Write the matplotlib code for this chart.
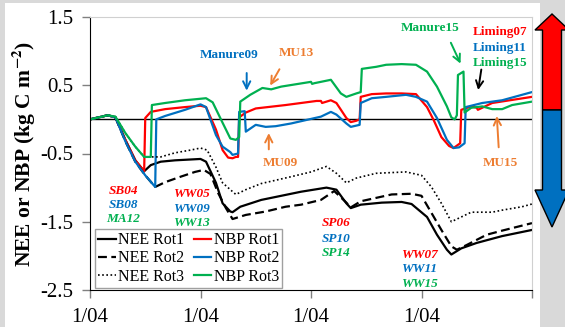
import matplotlib
matplotlib.use('Agg')
from matplotlib import pyplot as plt
from matplotlib.patches import Polygon, Rectangle

plt.rcParams['font.family'] = ['Liberation Serif', 'DejaVu Serif']
plt.rcParams['mathtext.fontset'] = 'stix'
plt.rcParams['axes.unicode_minus'] = False

# time axis: years since 1 April of the first year of each rotation
t_nbp1 = [0, 0.16, 0.23, 0.32, 0.41, 0.49, 0.50, 0.55, 0.68, 0.86, 1.00, 1.05, 1.14, 1.20, 1.25, 1.29,
          1.32, 1.34, 1.35, 1.41, 1.50, 1.77, 2.05, 2.09, 2.10, 2.18, 2.23, 2.32, 2.36, 2.41, 2.44, 2.45,
          2.55, 2.68, 2.82, 2.95, 3.05, 3.11, 3.18, 3.25, 3.29, 3.35, 3.36, 3.45, 3.50, 3.51, 3.64, 4.0]
nbp1 = [0, 0.06, 0.03, -0.30, -0.60, -0.76, 0.02, 0.11, 0.15, 0.18, 0.20, 0.18, -0.15, -0.45, -0.56, -0.57,
        -0.55, -0.55, 0.03, 0.10, 0.16, 0.21, 0.27, 0.27, 0.24, 0.28, 0.24, 0.02, -0.04, -0.02, 0.0, 0.33,
        0.37, 0.38, 0.38, 0.37, 0.18, -0.01, -0.26, -0.39, -0.42, -0.35, 0.14, 0.19, 0.17, 0.14, 0.24, 0.33]

t_nbp2 = [0, 0.16, 0.23, 0.32, 0.41, 0.50, 0.59, 0.60, 0.68, 0.86, 1.00, 1.05, 1.14, 1.20, 1.27, 1.29,
          1.34, 1.35, 1.40, 1.41, 1.50, 1.59, 1.68, 1.82, 2.09, 2.18, 2.23, 2.32, 2.36, 2.44, 2.45, 2.55,
          2.68, 2.86, 2.95, 3.05, 3.14, 3.23, 3.29, 3.34, 3.39, 3.40, 3.55, 3.73, 4.0]
nbp2 = [0, 0.06, 0.03, -0.32, -0.62, -0.82, -0.99, 0.0, 0.05, 0.14, 0.22, 0.18, -0.23, -0.40, -0.48, -0.52,
        -0.50, 0.11, 0.12, -0.18, -0.08, -0.11, -0.10, -0.06, 0.04, 0.11, 0.07, -0.06, -0.11, -0.08, 0.24, 0.31,
        0.33, 0.36, 0.33, 0.26, 0.02, -0.30, -0.42, -0.41, -0.35, 0.18, 0.24, 0.28, 0.40]

t_nbp3 = [0, 0.16, 0.23, 0.32, 0.41, 0.49, 0.55, 0.56, 0.68, 0.86, 1.05, 1.11, 1.20, 1.27, 1.32, 1.35,
          1.36, 1.45, 1.56, 1.64, 1.73, 2.00, 2.01, 2.03, 2.18, 2.27, 2.32, 2.41, 2.45, 2.46, 2.59, 2.68,
          2.82, 2.95, 3.05, 3.14, 3.23, 3.27, 3.30, 3.32, 3.33, 3.38, 3.39, 3.45, 3.55, 3.64, 3.73, 3.82, 4.0]
nbp3 = [0, 0.06, 0.04, -0.20, -0.40, -0.55, -0.55, 0.21, 0.24, 0.28, 0.31, 0.25, -0.05, -0.28, -0.30, -0.26,
        0.26, 0.36, 0.46, 0.44, 0.48, 0.55, 0.52, 0.53, 0.58, 0.38, 0.33, 0.38, 0.40, 0.74, 0.77, 0.80,
        0.81, 0.80, 0.70, 0.48, 0.19, 0.03, 0.0, 0.06, 0.65, 0.70, 0.10, 0.17, 0.19, 0.15, 0.15, 0.21, 0.26]

t_nee1 = [0, 0.16, 0.23, 0.32, 0.41, 0.49, 0.55, 0.64, 0.77, 1.00, 1.05, 1.14, 1.20, 1.27, 1.29, 1.36,
          1.55, 1.73, 1.91, 2.14, 2.23, 2.32, 2.36, 2.45, 2.64, 2.82, 2.91, 3.05, 3.14, 3.23, 3.27, 3.36,
          3.50, 3.73, 4.0]
nee1 = [0, 0.06, 0.03, -0.30, -0.60, -0.76, -0.67, -0.62, -0.60, -0.58, -0.62, -0.93, -1.23, -1.35, -1.36, -1.28,
        -1.18, -1.12, -1.06, -1.0, -1.03, -1.23, -1.30, -1.25, -1.22, -1.21, -1.24, -1.43, -1.69, -1.91, -1.98, -1.89,
        -1.81, -1.71, -1.62]

t_nee2 = [0, 0.16, 0.23, 0.32, 0.41, 0.50, 0.59, 0.68, 0.82, 0.95, 1.03, 1.09, 1.16, 1.23, 1.29, 1.41,
          1.59, 1.77, 1.91, 2.09, 2.21, 2.32, 2.36, 2.45, 2.73, 2.91, 3.0, 3.09, 3.18, 3.27, 3.32, 3.41,
          3.59, 3.73, 4.0]
nee2 = [0, 0.06, 0.03, -0.32, -0.62, -0.82, -0.99, -0.92, -0.84, -0.77, -0.74, -0.80, -1.08, -1.30, -1.46, -1.40,
        -1.35, -1.28, -1.25, -1.18, -1.05, -1.22, -1.29, -1.20, -1.10, -1.09, -1.12, -1.37, -1.62, -1.86, -1.91, -1.84,
        -1.69, -1.63, -1.52]

t_nee3 = [0, 0.16, 0.23, 0.32, 0.41, 0.49, 0.55, 0.64, 0.77, 0.91, 1.00, 1.06, 1.14, 1.20, 1.27, 1.32,
          1.41, 1.55, 1.82, 2.0, 2.14, 2.23, 2.32, 2.41, 2.59, 2.86, 3.0, 3.09, 3.18, 3.27, 3.36, 3.45,
          3.64, 3.73, 3.91, 4.0]
nee3 = [0, 0.06, 0.04, -0.20, -0.40, -0.55, -0.55, -0.55, -0.49, -0.45, -0.42, -0.45, -0.70, -0.93, -1.03, -1.10,
        -1.03, -0.94, -0.84, -0.77, -0.69, -0.79, -0.93, -0.86, -0.79, -0.77, -0.82, -0.99, -1.23, -1.50, -1.43, -1.36,
        -1.36, -1.33, -1.28, -1.24]

xticks = [0, 1, 2, 3, 4]
xticklabels = ['1/04', '1/04', '1/04', '1/04', '']
yticks = [1.5, 0.5, -0.5, -1.5, -2.5]

red = '#FF0000'
blue = '#0070C0'
green = '#00B050'
orange = '#ED7D31'

# crop labels, one column per rotation year
crops = [['SB04', 'SB08', 'MA12'], ['WW05', 'WW09', 'WW13'],
         ['SP06', 'SP10', 'SP14'], ['WW07', 'WW11', 'WW15']]
crop_pos = [(0.30, [-1.05, -1.25, -1.46]), (0.92, [-1.09, -1.31, -1.52]),
            (2.23, [-1.52, -1.75, -1.96]), (2.98, [-1.99, -2.19, -2.41])]

W, H = 565, 327
fig = plt.figure(figsize=(W / 100, H / 100), dpi=100)
fig.patch.set_facecolor('#D9D9D9')
fig.patches.append(Rectangle((5 / W, 0), 535 / W, 1 - 3 / H, transform=fig.transFigure,
                             facecolor='white', edgecolor='none', zorder=-5))

ax = fig.add_axes([90 / W, 1 - 290 / H, 442 / W, 273 / H])
ax.set_facecolor('white')

l_nee1, = ax.plot(t_nee1, nee1, color='black', lw=1.6, ls='-', label='NEE Rot1')
l_nbp1, = ax.plot(t_nbp1, nbp1, color=red, lw=1.6, label='NBP Rot1')
l_nee2, = ax.plot(t_nee2, nee2, color='black', lw=1.6, ls=(0, (4, 2)), label='NEE Rot2')
l_nbp2, = ax.plot(t_nbp2, nbp2, color=blue, lw=1.6, label='NBP Rot2')
l_nee3, = ax.plot(t_nee3, nee3, color='black', lw=1.2, ls=(0, (1, 1.5)), label='NEE Rot3')
l_nbp3, = ax.plot(t_nbp3, nbp3, color=green, lw=1.6, label='NBP Rot3')
ax.axhline(0, color='black', lw=1, zorder=1)

ax.set_xlim(0, 4)
ax.set_ylim(-2.5, 1.5)
ax.set_xticks(xticks)
ax.set_xticklabels(xticklabels)
ax.set_yticks(yticks)
ax.tick_params(direction='out', length=6, width=1, labelsize=15, color='#808080')
ax.tick_params(axis='y', pad=6)
ax.tick_params(axis='x', pad=7)
for s in ['top', 'right']:
    ax.spines[s].set_color('#D0D0D0')
for s in ['left', 'bottom']:
    ax.spines[s].set_color('black')
ax.set_ylabel('NEE or NBP (kg C m$^{\\mathbf{-2}}$)', fontsize=15.5, fontweight='bold', labelpad=2)

handles = [l_nee1, l_nee2, l_nee3, l_nbp1, l_nbp2, l_nbp3]
leg = ax.legend(handles=handles, labels=[h.get_label() for h in handles], ncol=2,
                loc='lower left', bbox_to_anchor=(0.011, 0.007), borderaxespad=0,
                fontsize=11.5, handlelength=1.1, handletextpad=0.15, columnspacing=0.6,
                labelspacing=0.15, borderpad=0.2, fancybox=False, framealpha=1)
leg.get_frame().set_edgecolor('#A0A0A0')

colors3 = [red, blue, green]
for labels, (xc, ys) in zip(crops, crop_pos):
    for lab, yc, c in zip(labels, ys, colors3):
        ax.text(xc, yc, lab, color=c, fontsize=9.5, fontweight='bold', fontstyle='italic',
                ha='center', va='center')

def note(txt, pos, tail, tip, c, ha='center'):
    ax.text(pos[0], pos[1], txt, color=c, fontsize=9.5, fontweight='bold', ha=ha, va='center')
    ax.annotate('', xy=tip, xytext=tail,
                arrowprops=dict(arrowstyle='->', color=c, lw=1.4, mutation_scale=13))

note('Manure09', (1.255, 0.94), (1.418, 0.72), (1.418, 0.38), blue)
note('MU13', (1.864, 0.97), (1.727, 0.77), (1.618, 0.46), orange)
note('MU09', (1.727, -0.64), (1.618, -0.48), (1.618, -0.16), orange)
note('Manure15', (3.08, 1.34), (3.255, 1.16), (3.364, 0.78), green)
note('MU15', (3.71, -0.64), (3.70, -0.45), (3.68, 0.09), orange)
ax.text(3.46, 1.28, 'Liming07', color=red, fontsize=9.5, fontweight='bold', ha='left', va='center')
ax.text(3.46, 1.05, 'Liming11', color=blue, fontsize=9.5, fontweight='bold', ha='left', va='center')
ax.text(3.46, 0.83, 'Liming15', color=green, fontsize=9.5, fontweight='bold', ha='left', va='center')
ax.annotate('', xy=(3.509, 0.39), xytext=(3.545, 0.77),
            arrowprops=dict(arrowstyle='->', color='black', lw=1.4, mutation_scale=13))

# double arrow on the right side (source / sink)
def fp(pts):
    return [(x / W, 1 - y / H) for x, y in pts]

up = fp([(552, 14), (569, 30), (561.5, 30), (561.5, 110), (542.5, 110), (542.5, 30), (535, 30)])
down = fp([(542.5, 110), (561.5, 110), (561.5, 190), (569, 190), (552, 227), (535, 190), (542.5, 190)])
fig.patches.append(Polygon(up, closed=True, transform=fig.transFigure, facecolor=red,
                           edgecolor='black', lw=1, zorder=3))
fig.patches.append(Polygon(down, closed=True, transform=fig.transFigure, facecolor=blue,
                           edgecolor='black', lw=1, zorder=3))

fig.savefig('out.png', dpi=100, facecolor=fig.get_facecolor())
